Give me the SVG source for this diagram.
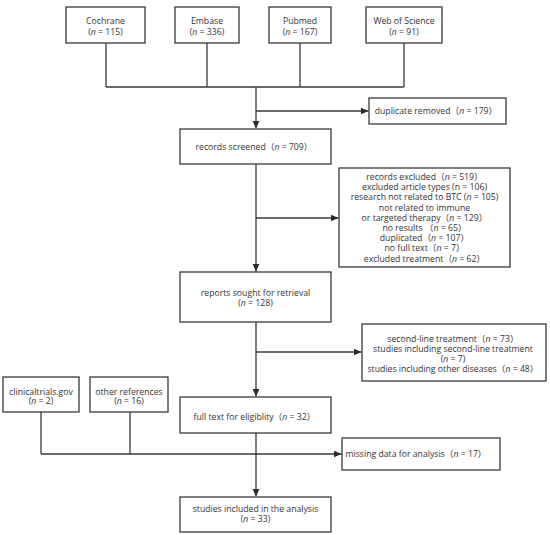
<svg xmlns="http://www.w3.org/2000/svg" width="550" height="535" viewBox="0 0 550 535">
<style>
.box{fill:#fff;stroke:#3a3a3a;stroke-width:1.3}
.ln{fill:none;stroke:#3a3a3a;stroke-width:1.3}
text{font-family:"Open Sans","Noto Sans CJK SC",sans-serif;font-size:8.7px;fill:#333;text-anchor:middle}
.i{font-style:italic}
</style>
<defs>
<marker id="ah" markerUnits="userSpaceOnUse" markerWidth="9" markerHeight="8" refX="8" refY="3.5" orient="auto">
<path d="M0,0 L8,3.5 L0,7 z" fill="#2a2a2a"/>
</marker>
</defs>
<rect width="550" height="535" fill="#fff"/>
<g id="connectors">
<path class="ln" d="M106,43 V87 M207,43 V87 M300,43 V87 M404,43 V87 M106,87 H404"/>
<path class="ln" d="M256,87 V128.5" marker-end="url(#ah)"/>
<path class="ln" d="M256,111 H368.5" marker-end="url(#ah)"/>
<path class="ln" d="M256,164 V271.5" marker-end="url(#ah)"/>
<path class="ln" d="M256,218 H338.5" marker-end="url(#ah)"/>
<path class="ln" d="M256,322 V396.5" marker-end="url(#ah)"/>
<path class="ln" d="M256,352 H361.5" marker-end="url(#ah)"/>
<path class="ln" d="M256,433 V496.5" marker-end="url(#ah)"/>
<path class="ln" d="M41,412 V454 M130,412 V454"/>
<path class="ln" d="M41,454 H341.5" marker-end="url(#ah)"/>
</g>
<g id="cochrane"><rect class="box" x="66" y="7" width="79" height="36"/><text x="105.5" y="23.5">Cochrane</text><text x="105.5" y="35">(<tspan class="i">n</tspan> = 115)</text></g>
<g id="embase"><rect class="box" x="175" y="7" width="64" height="36"/><text x="207" y="23.5">Embase</text><text x="207" y="35">(<tspan class="i">n</tspan> = 336)</text></g>
<g id="pubmed"><rect class="box" x="269" y="7" width="62" height="36"/><text x="300" y="23.5">Pubmed</text><text x="300" y="35">(<tspan class="i">n</tspan> = 167)</text></g>
<g id="wos"><rect class="box" x="366" y="7" width="76" height="36"/><text x="404" y="23.5">Web of Science</text><text x="404" y="35">(<tspan class="i">n</tspan> = 91)</text></g>
<g id="duplicate"><rect class="box" x="369" y="98" width="137" height="26"/><text x="436" y="114">duplicate removed（<tspan class="i">n</tspan> = 179）</text></g>
<g id="screened"><rect class="box" x="180" y="129" width="151" height="35"/><text x="254" y="150">records screened（<tspan class="i">n</tspan> = 709）</text></g>
<g id="excluded"><rect class="box" x="339" y="168" width="171" height="99"/>
<text x="424.5" y="180">records excluded（<tspan class="i">n</tspan> = 519）</text>
<text x="424.5" y="190.2">excluded article types  (n = 106)</text>
<text x="424.5" y="200.4">research not related to BTC (<tspan class="i">n</tspan> = 105)</text>
<text x="424.5" y="210.6">not related to immune</text>
<text x="424.5" y="220.8">or targeted therapy（<tspan class="i">n</tspan> = 129）</text>
<text x="424.5" y="231">no results （<tspan class="i">n</tspan> = 65）</text>
<text x="424.5" y="241.2">duplicated（<tspan class="i">n</tspan> = 107）</text>
<text x="424.5" y="251.4">no full text（<tspan class="i">n</tspan> = 7）</text>
<text x="424.5" y="261.6">excluded treatment（<tspan class="i">n</tspan> = 62）</text>
</g>
<g id="reports"><rect class="box" x="180" y="272" width="151" height="50"/><text x="255.5" y="296">reports sought for retrieval</text><text x="255.5" y="306">(<tspan class="i">n</tspan> = 128)</text></g>
<g id="secondline"><rect class="box" x="362" y="324" width="184" height="57"/>
<text x="453" y="342">second-line treatment（<tspan class="i">n</tspan> = 73）</text>
<text x="453" y="352">studies including second-line treatment</text>
<text x="453" y="361.5">(<tspan class="i">n</tspan> = 7)</text>
<text x="453" y="372">studies including other diseases（<tspan class="i">n</tspan> = 48）</text>
</g>
<g id="clinicaltrials"><rect class="box" x="3" y="377" width="76" height="35"/><text x="41" y="394.5">clinicaltrials.gov</text><text x="41" y="404">(<tspan class="i">n</tspan>  = 2)</text></g>
<g id="otherrefs"><rect class="box" x="90" y="377" width="78" height="35"/><text x="129" y="394.5">other references</text><text x="129" y="404">(<tspan class="i">n</tspan> = 16)</text></g>
<g id="fulltext"><rect class="box" x="180" y="397" width="151" height="36"/><text x="254.5" y="419.5">full text for eligiblity（<tspan class="i">n</tspan> = 32）</text></g>
<g id="missing"><rect class="box" x="342" y="438" width="158" height="32"/><text x="416" y="457">missing data for analysis（<tspan class="i">n</tspan> = 17）</text></g>
<g id="included"><rect class="box" x="180" y="497" width="151" height="35"/><text x="255.5" y="512">studies included in the analysis</text><text x="255.5" y="522">(<tspan class="i">n</tspan> = 33)</text></g>
</svg>
